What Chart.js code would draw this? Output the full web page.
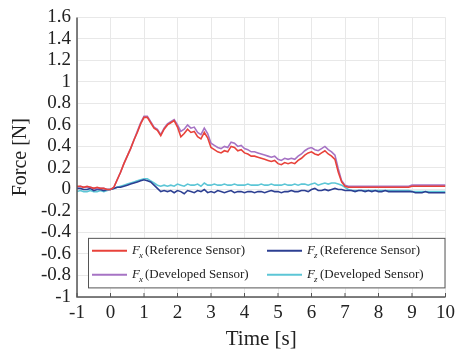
<!DOCTYPE html>
<html>
<head>
<meta charset="utf-8">
<script src="https://cdn.jsdelivr.net/npm/chart.js@4"></script>
<style>
  html, body { margin: 0; padding: 0; background: #fff; }
  #wrap { width: 460px; height: 356px; }
</style>
</head>
<body>
<div id="wrap"><canvas id="forceChart"></canvas></div>
<script>
// time stamps [s]
const times = [
  -1.0,-0.9,-0.8,-0.7,-0.6,-0.5,-0.4,-0.3,-0.2,-0.1,
  0.0,0.1,0.2,0.3,0.4,0.5,0.6,0.7,0.8,0.9,
  1.0,1.1,1.2,1.3,1.4,1.5,1.6,1.7,1.8,1.9,
  2.0,2.1,2.2,2.3,2.4,2.5,2.6,2.7,2.8,2.9,
  3.0,3.1,3.2,3.3,3.4,3.5,3.6,3.7,3.8,3.9,
  4.0,4.1,4.2,4.3,4.4,4.5,4.6,4.7,4.8,4.9,
  5.0,5.1,5.2,5.3,5.4,5.5,5.6,5.7,5.8,5.9,
  6.0,6.1,6.2,6.3,6.4,6.5,6.6,6.7,6.8,6.9,
  7.0,7.1,7.2,7.3,7.4,7.5,7.6,7.7,7.8,7.9,
  8.0,8.1,8.2,8.3,8.4,8.5,8.6,8.7,8.8,8.9,
  9.0,9.1,9.2,9.3,9.4,9.5,9.6,9.7,9.8,9.9,
  10.0
];

// Fx, reference sensor [N]
const fxRef = [
  0.03,0.03,0.02,0.03,0.02,0.01,0.02,0.01,0.01,0.00,
  0.00,0.02,0.09,0.16,0.24,0.31,0.38,0.46,0.53,0.61,
  0.67,0.67,0.62,0.57,0.55,0.50,0.56,0.60,0.62,0.64,
  0.58,0.49,0.52,0.56,0.53,0.54,0.49,0.47,0.53,0.48,
  0.39,0.37,0.35,0.34,0.36,0.35,0.40,0.39,0.36,0.37,
  0.34,0.33,0.31,0.31,0.30,0.29,0.28,0.27,0.26,0.27,
  0.24,0.23,0.25,0.24,0.25,0.24,0.27,0.29,0.32,0.34,
  0.35,0.33,0.32,0.34,0.36,0.33,0.31,0.28,0.16,0.07,
  0.03,0.02,0.02,0.02,0.02,0.02,0.02,0.02,0.02,0.02,
  0.02,0.02,0.02,0.02,0.02,0.02,0.02,0.02,0.02,0.02,
  0.03,0.03,0.03,0.03,0.03,0.03,0.03,0.03,0.03,0.03,
  0.03
];

// Fx, developed sensor [N]
const fxDev = [
  0.02,0.03,0.02,0.02,0.02,0.01,0.01,0.01,0.01,0.00,
  0.00,0.02,0.09,0.16,0.24,0.31,0.38,0.46,0.54,0.62,
  0.68,0.68,0.63,0.58,0.56,0.51,0.57,0.61,0.63,0.65,
  0.60,0.54,0.56,0.60,0.57,0.58,0.53,0.51,0.57,0.52,
  0.43,0.41,0.39,0.38,0.40,0.39,0.44,0.43,0.40,0.41,
  0.38,0.37,0.35,0.35,0.34,0.33,0.32,0.31,0.30,0.31,
  0.28,0.27,0.29,0.28,0.29,0.28,0.31,0.33,0.36,0.38,
  0.39,0.37,0.36,0.38,0.40,0.37,0.35,0.32,0.19,0.08,
  0.04,0.03,0.03,0.03,0.03,0.03,0.03,0.03,0.03,0.03,
  0.03,0.03,0.03,0.03,0.03,0.03,0.03,0.03,0.03,0.03,
  0.04,0.04,0.04,0.04,0.04,0.04,0.04,0.04,0.04,0.04,
  0.04
];

// Fz, reference sensor [N]
const fzRef = [
  0.01,0.01,0.00,0.00,0.01,-0.01,0.00,0.00,-0.01,0.00,
  0.00,0.01,0.02,0.02,0.03,0.04,0.05,0.06,0.07,0.08,
  0.09,0.08,0.07,0.04,0.01,-0.02,-0.01,-0.02,-0.01,-0.03,
  -0.01,-0.02,-0.04,-0.01,-0.02,-0.03,-0.01,-0.02,0.00,-0.03,
  -0.02,-0.03,-0.01,-0.02,-0.03,-0.02,-0.01,-0.03,-0.02,-0.02,
  -0.03,-0.02,-0.02,-0.03,-0.02,-0.02,-0.03,-0.02,-0.01,-0.02,
  -0.02,-0.03,-0.02,-0.02,-0.01,-0.02,-0.02,-0.01,-0.01,-0.02,
  0.00,0.01,-0.01,-0.01,0.00,-0.01,0.00,0.01,0.00,0.00,
  -0.01,-0.01,-0.01,-0.02,-0.01,-0.01,-0.02,-0.01,-0.02,-0.01,
  -0.02,-0.02,-0.01,-0.02,-0.02,-0.02,-0.02,-0.02,-0.02,-0.02,
  -0.02,-0.03,-0.03,-0.03,-0.02,-0.03,-0.03,-0.03,-0.03,-0.03,
  -0.03
];

// Fz, developed sensor [N]
const fzDev = [
  -0.02,-0.01,-0.02,-0.02,-0.01,-0.02,-0.02,-0.01,-0.02,-0.01,
  0.00,0.01,0.02,0.03,0.04,0.05,0.06,0.07,0.08,0.09,
  0.10,0.10,0.08,0.06,0.04,0.03,0.04,0.03,0.04,0.03,
  0.05,0.04,0.03,0.05,0.04,0.04,0.05,0.03,0.06,0.04,
  0.04,0.05,0.04,0.04,0.05,0.04,0.04,0.05,0.04,0.04,
  0.04,0.05,0.04,0.04,0.04,0.05,0.04,0.04,0.05,0.04,
  0.04,0.04,0.05,0.04,0.04,0.05,0.04,0.05,0.05,0.04,
  0.05,0.06,0.04,0.05,0.06,0.05,0.06,0.06,0.05,0.04,
  0.02,0.00,-0.01,-0.01,-0.01,-0.01,-0.01,-0.01,-0.01,-0.01,
  -0.01,-0.01,-0.01,-0.01,-0.01,-0.01,-0.01,-0.01,-0.01,-0.01,
  -0.02,-0.02,-0.02,-0.02,-0.02,-0.02,-0.02,-0.02,-0.02,-0.02,
  -0.02
];

const serif = "'Liberation Serif', 'DejaVu Serif', serif";

const toPoints = vals => vals.map((v, i) => ({ x: times[i], y: v }));

const series = [
  { name: 'x', label: '(Reference Sensor)', data: fxRef, color: '#e8423a' },
  { name: 'x', label: '(Developed Sensor)', data: fxDev, color: '#a673c4' },
  { name: 'z', label: '(Reference Sensor)', data: fzRef, color: '#2c3f92' },
  { name: 'z', label: '(Developed Sensor)', data: fzDev, color: '#5cc6d6' }
];

// legend drawn inside the plot, 2 columns x 2 rows like the original figure
const boxLegend = {
  id: 'boxLegend',
  afterDraw(chart) {
    const ctx = chart.ctx;
    const area = chart.chartArea;
    const left = area.left + 11, right = area.right;
    const top = chart.scales.y.getPixelForValue(-0.45);
    const bottom = chart.scales.y.getPixelForValue(-0.92);
    ctx.save();
    ctx.fillStyle = '#fff';
    ctx.fillRect(left, top, right - left, bottom - top);
    ctx.strokeStyle = '#555';
    ctx.lineWidth = 1;
    ctx.strokeRect(left + 0.5, top + 0.5, right - left - 1, bottom - top - 1);

    // order: col1 = Fx ref, Fx dev ; col2 = Fz ref, Fz dev
    const cells = [
      [series[0], 0, 0], [series[1], 0, 1],
      [series[2], 1, 0], [series[3], 1, 1]
    ];
    const colX = [left + 4, left + 179];
    const rowY = [top + 13, top + 37];
    cells.forEach(([s, c, r]) => {
      const x = colX[c], y = rowY[r];
      ctx.strokeStyle = s.color;
      ctx.lineWidth = 2;
      ctx.beginPath();
      ctx.moveTo(x, y);
      ctx.lineTo(x + 35, y);
      ctx.stroke();
      ctx.fillStyle = '#222';
      ctx.textBaseline = 'middle';
      ctx.font = 'italic 13px ' + serif;
      ctx.fillText('F', x + 40, y);
      ctx.font = 'italic 9px ' + serif;
      ctx.fillText(s.name, x + 47, y + 5);
      ctx.font = '13px ' + serif;
      ctx.fillText(s.label, x + 53, y);
    });
    ctx.restore();
  }
};

// dark left and bottom axis lines on top of the grid
const axisLines = {
  id: 'axisLines',
  afterDatasetsDraw(chart) {
    const ctx = chart.ctx;
    const a = chart.chartArea;
    ctx.save();
    ctx.strokeStyle = '#555';
    ctx.lineWidth = 1.5;
    ctx.beginPath();
    ctx.moveTo(a.left, a.top);
    ctx.lineTo(a.left, a.bottom);
    ctx.lineTo(a.right, a.bottom);
    ctx.stroke();
    // small inward ticks on the time axis
    ctx.lineWidth = 1;
    for (let t = -1; t <= 10; t++) {
      const px = chart.scales.x.getPixelForValue(t);
      ctx.beginPath();
      ctx.moveTo(px, a.bottom);
      ctx.lineTo(px, a.bottom - 4);
      ctx.stroke();
    }
    ctx.restore();
  }
};

new Chart(document.getElementById('forceChart'), {
  type: 'line',
  data: {
    datasets: series.map(s => ({
      label: s.name + ' ' + s.label,
      data: toPoints(s.data),
      borderColor: s.color,
      borderWidth: 1.6,
      pointRadius: 0,
      tension: 0,
      fill: false
    }))
  },
  options: {
    responsive: true,
    maintainAspectRatio: false,
    animation: false,
    layout: { padding: { top: 17, right: 13, left: 5, bottom: 0 } },
    plugins: {
      legend: { display: false },
      tooltip: { enabled: false }
    },
    scales: {
      x: {
        type: 'linear',
        min: -1,
        max: 10,
        afterFit(scale) { scale.height = 59; },
        ticks: {
          stepSize: 1,
          autoSkip: false,
          color: '#222',
          font: { family: serif, size: 19 },
          padding: 5,
          maxRotation: 0
        },
        grid: { color: '#e8e8e8', drawTicks: false },
        border: { display: false },
        title: {
          display: true,
          text: 'Time [s]',
          color: '#222',
          font: { family: serif, size: 21 },
          padding: { top: 0 }
        }
      },
      y: {
        min: -1,
        max: 1.6,
        afterFit(scale) { scale.width = 72; },
        ticks: {
          stepSize: 0.2,
          autoSkip: false,
          color: '#222',
          font: { family: serif, size: 19 },
          padding: 6,
          callback: v => String(Number(v.toFixed(1)))
        },
        grid: { color: '#e8e8e8', drawTicks: false },
        border: { display: false },
        title: {
          display: true,
          text: 'Force [N]',
          color: '#222',
          font: { family: serif, size: 20 },
          padding: { bottom: 0 }
        }
      }
    }
  },
  plugins: [axisLines, boxLegend]
});
</script>
</body>
</html>
